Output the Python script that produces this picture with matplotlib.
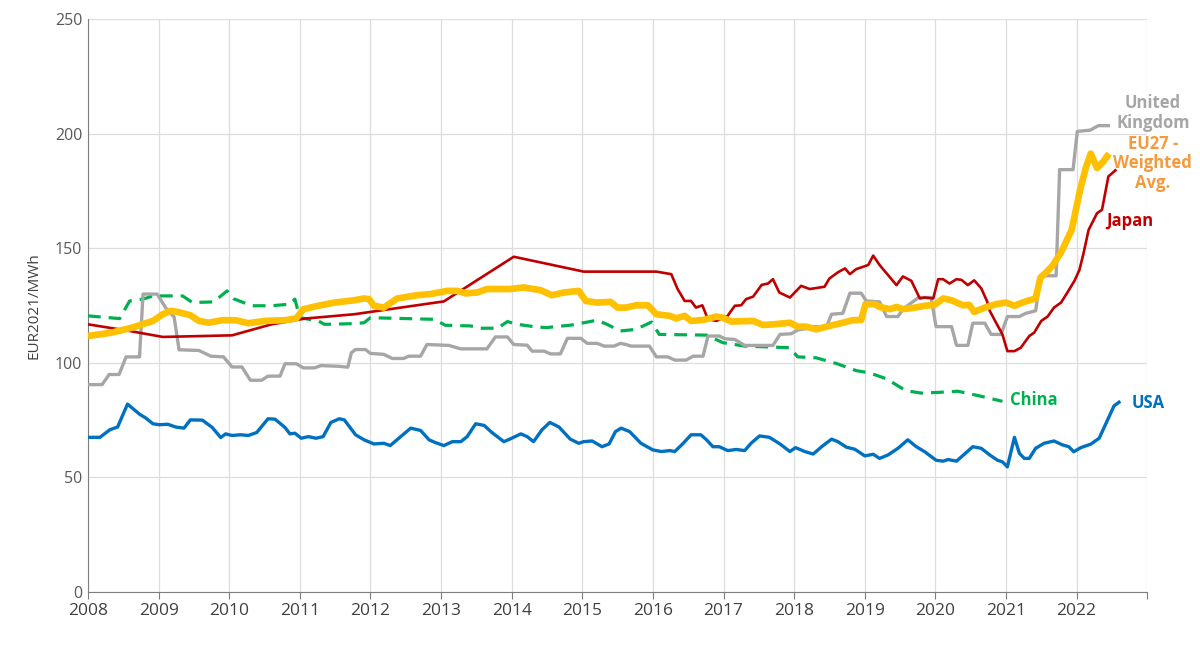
import matplotlib
matplotlib.use("Agg")
import matplotlib.pyplot as plt

# =============================================================================
# values (decimal year, EUR2021/MWh)
# =============================================================================
usa_years = [2008.00, 2008.17, 2008.31, 2008.42, 2008.56, 2008.73, 2008.82, 2008.92, 2009.01, 2009.13,
             2009.24, 2009.36, 2009.45, 2009.62, 2009.76, 2009.88, 2009.95, 2010.04, 2010.16, 2010.27,
             2010.39, 2010.55, 2010.65, 2010.79, 2010.86, 2010.93, 2011.02, 2011.12, 2011.23, 2011.33,
             2011.44, 2011.56, 2011.63, 2011.79, 2011.91, 2012.05, 2012.19, 2012.28, 2012.43, 2012.57,
             2012.71, 2012.83, 2012.92, 2013.04, 2013.16, 2013.28, 2013.37, 2013.49, 2013.61, 2013.72,
             2013.89, 2013.98, 2014.13, 2014.22, 2014.31, 2014.43, 2014.54, 2014.67, 2014.83, 2014.95,
             2015.02, 2015.14, 2015.28, 2015.38, 2015.47, 2015.55, 2015.67, 2015.83, 2016.00, 2016.12,
             2016.24, 2016.31, 2016.43, 2016.54, 2016.68, 2016.76, 2016.85, 2016.94, 2017.06, 2017.18,
             2017.30, 2017.39, 2017.51, 2017.65, 2017.80, 2017.94, 2018.02, 2018.15, 2018.27, 2018.39,
             2018.53, 2018.62, 2018.74, 2018.86, 2019.00, 2019.12, 2019.21, 2019.33, 2019.47, 2019.61,
             2019.73, 2019.85, 2020.01, 2020.11, 2020.18, 2020.30, 2020.41, 2020.53, 2020.65, 2020.77,
             2020.88, 2020.95, 2021.02, 2021.12, 2021.19, 2021.26, 2021.33, 2021.42, 2021.54, 2021.68,
             2021.80, 2021.89, 2021.96, 2022.06, 2022.20, 2022.32, 2022.44, 2022.53, 2022.60]
usa_values = [67.5, 67.5, 70.8, 72.0, 82.0, 77.6, 75.9, 73.4, 73.0, 73.2,
              72.0, 71.5, 75.1, 75.0, 71.8, 67.4, 69.0, 68.3, 68.6, 68.3,
              69.6, 75.6, 75.4, 71.8, 69.0, 69.3, 67.1, 67.8, 67.1, 67.8,
              74.0, 75.6, 75.1, 68.6, 66.4, 64.6, 64.9, 63.9, 67.8, 71.5,
              70.5, 66.4, 65.2, 63.9, 65.6, 65.6, 67.8, 73.4, 72.7, 69.6,
              65.6, 66.8, 69.0, 67.8, 65.6, 70.8, 74.0, 72.0, 66.7, 64.9,
              65.6, 65.9, 63.4, 64.6, 70.0, 71.5, 70.0, 64.9, 62.0, 61.3,
              61.7, 61.3, 64.9, 68.6, 68.6, 66.4, 63.4, 63.4, 61.7, 62.2,
              61.7, 64.9, 68.1, 67.5, 64.6, 61.3, 63.0, 61.3, 60.2, 63.4,
              66.7, 65.6, 63.2, 62.3, 59.4, 60.1, 58.3, 59.8, 62.7, 66.4,
              63.4, 61.2, 57.5, 57.1, 57.8, 57.1, 60.1, 63.4, 62.7, 59.8,
              57.5, 56.8, 54.6, 67.5, 60.5, 58.3, 58.3, 62.7, 64.9, 65.9,
              64.2, 63.4, 61.2, 63.0, 64.5, 67.1, 75.1, 81.2, 82.8]

uk_years = [2008.00, 2008.20, 2008.30, 2008.44, 2008.54, 2008.73, 2008.78, 2008.98, 2009.10, 2009.22,
            2009.29, 2009.57, 2009.74, 2009.92, 2010.04, 2010.18, 2010.30, 2010.46, 2010.55, 2010.72,
            2010.79, 2010.95, 2011.05, 2011.21, 2011.30, 2011.54, 2011.68, 2011.73, 2011.79, 2011.93,
            2012.00, 2012.19, 2012.31, 2012.47, 2012.54, 2012.71, 2012.80, 2013.11, 2013.28, 2013.65,
            2013.77, 2013.94, 2014.03, 2014.22, 2014.29, 2014.46, 2014.55, 2014.69, 2014.79, 2014.98,
            2015.07, 2015.21, 2015.31, 2015.45, 2015.54, 2015.62, 2015.69, 2015.95, 2016.05, 2016.21,
            2016.31, 2016.47, 2016.57, 2016.71, 2016.78, 2016.94, 2017.02, 2017.16, 2017.30, 2017.70,
            2017.80, 2017.96, 2018.05, 2018.17, 2018.27, 2018.46, 2018.53, 2018.69, 2018.79, 2018.95,
            2019.02, 2019.21, 2019.31, 2019.47, 2019.54, 2019.76, 2019.94, 2020.01, 2020.23, 2020.30,
            2020.46, 2020.53, 2020.70, 2020.79, 2020.93, 2021.02, 2021.19, 2021.28, 2021.42, 2021.49,
            2021.71, 2021.76, 2021.95, 2022.01, 2022.19, 2022.31, 2022.45]
uk_values = [90.5, 90.5, 94.9, 94.9, 102.6, 102.6, 130.0, 130.0, 124.0, 120.0,
             105.7, 105.4, 102.9, 102.6, 98.2, 98.2, 92.4, 92.4, 94.2, 94.2,
             99.6, 99.6, 97.8, 97.8, 98.8, 98.5, 98.1, 104.4, 105.8, 105.8,
             104.1, 103.7, 101.9, 101.9, 102.9, 102.9, 108.0, 107.6, 106.1, 106.1,
             111.3, 111.3, 108.0, 107.7, 105.1, 105.1, 103.9, 103.9, 110.7, 110.7,
             108.5, 108.5, 107.3, 107.3, 108.5, 108.0, 107.3, 107.3, 102.6, 102.6,
             101.2, 101.2, 102.9, 102.9, 111.7, 111.7, 110.5, 110.2, 107.6, 107.6,
             112.4, 112.7, 114.3, 114.9, 115.8, 115.8, 121.2, 121.6, 130.4, 130.4,
             127.0, 126.6, 120.2, 120.2, 123.4, 128.5, 128.5, 115.8, 115.8, 107.6,
             107.6, 117.3, 117.3, 112.4, 112.4, 120.2, 120.2, 121.6, 122.7, 138.0,
             138.0, 184.3, 184.3, 201.0, 201.5, 203.5, 203.5]

china_years = [2008.00, 2008.45, 2008.59, 2008.78, 2008.92, 2009.34, 2009.48, 2009.78, 2009.97, 2010.06,
               2010.32, 2010.60, 2010.86, 2010.93, 2011.00, 2011.26, 2011.35, 2011.77, 2011.91, 2012.00,
               2012.90, 2013.06, 2013.42, 2013.56, 2013.80, 2013.94, 2014.08, 2014.36, 2014.50, 2014.85,
               2015.21, 2015.35, 2015.54, 2015.76, 2015.98, 2016.09, 2016.76, 2016.99, 2017.30, 2017.94,
               2018.05, 2018.31, 2018.60, 2018.88, 2019.07, 2019.31, 2019.52, 2019.57, 2019.80, 2020.04,
               2020.32, 2020.65, 2020.95]
china_values = [120.5, 119.3, 127.0, 127.8, 129.2, 129.2, 126.3, 126.6, 131.4, 128.0,
                124.9, 124.9, 125.6, 127.8, 119.7, 118.3, 116.8, 117.1, 117.5, 119.7,
                119.0, 116.4, 116.1, 115.1, 115.1, 118.0, 116.8, 115.6, 115.4, 116.5,
                118.6, 116.8, 113.9, 114.6, 117.8, 112.4, 112.1, 108.8, 107.3, 106.6,
                102.6, 102.2, 99.7, 96.6, 95.6, 93.0, 89.0, 87.9, 86.8, 87.1,
                87.6, 85.4, 83.2]

japan_years = [2008.00, 2008.59, 2009.06, 2010.04, 2010.60, 2011.07, 2011.77, 2013.04, 2014.03, 2015.02,
               2016.05, 2016.26, 2016.35, 2016.45, 2016.54, 2016.61, 2016.70, 2016.78, 2016.90, 2017.06,
               2017.09, 2017.16, 2017.25, 2017.32, 2017.42, 2017.54, 2017.63, 2017.70, 2017.79, 2017.94,
               2018.10, 2018.22, 2018.43, 2018.50, 2018.62, 2018.72, 2018.79, 2018.88, 2019.05, 2019.12,
               2019.21, 2019.33, 2019.45, 2019.54, 2019.66, 2019.78, 2019.85, 2019.97, 2020.04, 2020.11,
               2020.20, 2020.30, 2020.37, 2020.46, 2020.55, 2020.65, 2020.73, 2020.77, 2020.86, 2020.95,
               2021.02, 2021.12, 2021.21, 2021.33, 2021.40, 2021.50, 2021.59, 2021.68, 2021.78, 2021.87,
               2021.97, 2022.04, 2022.10, 2022.17, 2022.29, 2022.36, 2022.45, 2022.55]
japan_values = [116.8, 113.9, 111.3, 112.0, 116.8, 119.3, 121.2, 126.8, 146.3, 139.8,
                139.8, 138.7, 132.2, 127.0, 127.0, 124.1, 125.1, 119.0, 118.3, 120.5,
                121.9, 124.9, 125.1, 127.8, 128.9, 134.0, 134.6, 136.5, 130.7, 128.5,
                133.6, 132.2, 133.2, 136.8, 139.5, 141.2, 138.7, 140.9, 142.7, 146.8,
                142.7, 138.3, 133.9, 137.7, 135.8, 128.1, 128.5, 128.1, 136.5, 136.5,
                134.6, 136.5, 136.2, 133.9, 136.0, 132.5, 127.0, 122.7, 117.5, 112.4,
                105.1, 105.1, 106.6, 111.7, 113.2, 118.3, 120.2, 124.1, 126.3, 130.7,
                135.8, 140.5, 148.0, 158.0, 165.3, 166.8, 181.3, 184.0]

eu_years = [2008.00, 2008.34, 2008.63, 2008.92, 2009.06, 2009.17, 2009.27, 2009.45, 2009.57, 2009.71,
            2009.90, 2010.09, 2010.27, 2010.51, 2010.79, 2010.95, 2011.05, 2011.26, 2011.49, 2011.77,
            2011.91, 2011.98, 2012.05, 2012.19, 2012.38, 2012.66, 2012.85, 2013.09, 2013.23, 2013.35,
            2013.51, 2013.65, 2013.98, 2014.17, 2014.41, 2014.57, 2014.74, 2014.95, 2015.05, 2015.21,
            2015.40, 2015.50, 2015.62, 2015.76, 2015.93, 2016.05, 2016.24, 2016.33, 2016.45, 2016.54,
            2016.71, 2016.90, 2016.99, 2017.11, 2017.42, 2017.56, 2017.70, 2017.94, 2018.05, 2018.17,
            2018.31, 2018.50, 2018.69, 2018.83, 2018.95, 2019.01, 2019.14, 2019.21, 2019.36, 2019.45,
            2019.54, 2019.71, 2019.85, 2019.99, 2020.11, 2020.23, 2020.39, 2020.48, 2020.55, 2020.70,
            2020.86, 2021.00, 2021.12, 2021.26, 2021.42, 2021.49, 2021.57, 2021.66, 2021.78, 2021.93,
            2022.05, 2022.13, 2022.20, 2022.29, 2022.38, 2022.46]
eu_values = [111.7, 113.2, 115.4, 118.3, 121.2, 122.7, 122.2, 120.8, 118.3, 117.5,
             118.6, 118.6, 117.3, 118.3, 118.6, 119.4, 123.4, 124.9, 126.3, 127.3,
             128.1, 127.8, 124.9, 124.1, 128.1, 129.5, 130.0, 131.4, 131.4, 130.3,
             130.7, 132.2, 132.2, 132.9, 131.7, 129.5, 130.7, 131.4, 127.0, 126.3,
             126.6, 124.1, 124.1, 125.1, 125.1, 121.2, 120.5, 119.4, 120.5, 118.3,
             118.7, 120.2, 119.7, 118.0, 118.3, 116.5, 116.8, 117.5, 115.8, 115.8,
             114.6, 116.1, 117.5, 118.6, 118.7, 125.6, 125.6, 124.4, 123.4, 124.4,
             123.4, 124.1, 124.9, 125.3, 128.1, 127.3, 125.1, 125.3, 122.2, 124.1,
             125.6, 126.3, 124.9, 126.6, 128.1, 137.3, 139.5, 142.4, 148.2, 158.0,
             175.5, 185.0, 191.3, 185.0, 187.9, 191.3]

year_ticks = list(range(2008, 2024))
year_labels = [str(y) for y in range(2008, 2023)] + [""]
value_ticks = [0, 50, 100, 150, 200, 250]

# =============================================================================
plt.rcParams["font.family"] = ["Open Sans", "DejaVu Sans"]

fig = plt.figure(figsize=(12, 6.58), dpi=100)
ax = fig.add_axes([0.0733, 0.1003, 0.8827, 0.8707])

ax.plot(china_years, china_values, color="#00B050", lw=2.3, ls=(0, (4, 2.5)), zorder=3)
ax.plot(usa_years, usa_values, color="#0070C0", lw=2.4, zorder=4)
ax.plot(uk_years, uk_values, color="#A6A6A6", lw=2.4, zorder=5)
ax.plot(japan_years, japan_values, color="#C00000", lw=1.9, zorder=6)
ax.plot(eu_years, eu_values, color="#FFC000", lw=4.8, zorder=7, solid_capstyle="butt")

ax.set_xlim(2008, 2023)
ax.set_ylim(0, 250)
ax.set_xticks(year_ticks)
ax.set_xticklabels(year_labels)
ax.set_yticks(value_ticks)

ax.grid(True, color="#DDDDDD", lw=0.9)
ax.set_axisbelow(True)
for side in ["top", "right"]:
    ax.spines[side].set_visible(False)
ax.spines["left"].set_color("#7F7F7F")
ax.spines["bottom"].set_color("#7F7F7F")
ax.tick_params(axis="y", length=0, pad=4, labelsize=11.5, labelcolor="#595959")
ax.tick_params(axis="x", length=5, color="#7F7F7F", pad=3, labelsize=12.5, labelcolor="#404040")
ax.set_ylabel("EUR2021/MWh", fontsize=11, color="#404040", labelpad=10)

# series labels at the line ends
lab = dict(fontsize=12, fontweight="bold", ha="center", va="center", clip_on=False)
ax.text(2023.08, 209, "United\nKingdom", color="#A6A6A6", linespacing=1.1, **lab)
ax.text(2023.08, 187, "EU27 -\nWeighted\nAvg.", color="#F59A3C", linespacing=1.1, **lab)
ax.text(2022.75, 162, "Japan", color="#C00000", **lab)
ax.text(2021.40, 83.8, "China", color="#00B050", **lab)
ax.text(2023.02, 82.5, "USA", color="#0070C0", **lab)

fig.savefig("out.png", dpi=100)
